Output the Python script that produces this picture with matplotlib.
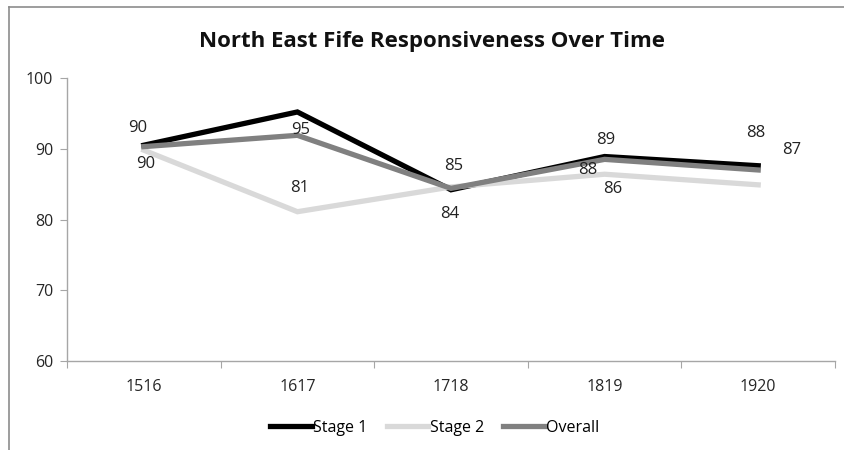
import matplotlib
matplotlib.use("Agg")
import matplotlib.pyplot as plt
from matplotlib.lines import Line2D

plt.rcParams['font.family'] = ['Open Sans', 'DejaVu Sans']

years = ['1516', '1617', '1718', '1819', '1920']
stage1 = [90.5, 95.2, 84.2, 88.9, 87.6]
stage2 = [89.8, 81.1, 84.6, 86.4, 84.9]
overall = [90.3, 91.9, 84.4, 88.5, 87.0]

# which points carry a data label, with offset in pixels (dx, dy up)
label_spots = [
    (stage1, 0, (-6, 17)),
    (stage2, 0, (2, -14)),
    (stage1, 1, (3, -18)),
    (stage2, 1, (2, 24)),
    (stage2, 2, (3, 21)),
    (stage1, 2, (-1, -24)),
    (stage1, 3, (1, 17)),
    (overall, 3, (-17, -11)),
    (stage2, 3, (8, -15)),
    (stage1, 4, (-2, 33)),
    (overall, 4, (33, 20)),
]

fig = plt.figure(figsize=(8.45, 4.5), dpi=100)
ax = fig.add_axes([67 / 845, 89 / 450, (835 - 67) / 845, (361 - 78) / 450])

x = list(range(len(years)))
ax.plot(x, stage1, color='#000000', lw=3.8, solid_joinstyle='miter', label='Stage 1')
ax.plot(x, stage2, color='#d9d9d9', lw=3.8, solid_joinstyle='miter', label='Stage 2')
ax.plot(x, overall, color='#808080', lw=3.8, solid_joinstyle='miter', label='Overall')

for series, i, (dx, dy) in label_spots:
    ax.annotate(f"{series[i]:.0f}", (x[i], series[i]), xytext=(dx * 0.72, dy * 0.72),
                textcoords='offset points', ha='center', va='center',
                fontsize=12, color='#222222')

ax.set_xlim(-0.5, len(years) - 0.5)
ax.set_ylim(60, 100)
ax.set_yticks([60, 70, 80, 90, 100])

# category boundaries as major ticks, names on minor ticks
ax.set_xticks([i - 0.5 for i in range(len(years) + 1)])
ax.set_xticklabels([])
ax.set_xticks(x, minor=True)
ax.set_xticklabels(years, minor=True)
ax.tick_params(axis='x', which='major', length=5, color='#a6a6a6', direction='out')
ax.tick_params(axis='x', which='minor', length=0, pad=13, labelsize=11.5, labelcolor='#262626')
ax.tick_params(axis='y', length=5, color='#a6a6a6', labelsize=11.5, labelcolor='#262626', pad=5)

for side in ['top', 'right']:
    ax.spines[side].set_visible(False)
for side in ['left', 'bottom']:
    ax.spines[side].set_color('#a6a6a6')
    ax.spines[side].set_linewidth(1.0)

fig.text(432 / 845, 1 - 42 / 450, 'North East Fife Responsiveness Over Time',
         ha='center', va='center', fontsize=16, fontweight='bold', color='#111111')

fig.legend(loc='center', bbox_to_anchor=(435 / 845, 1 - 428 / 450), ncol=3, frameon=False,
           fontsize=11.5, handlelength=2.6, handletextpad=0.1, columnspacing=1.2)

# chart area border (top and left edges visible)
fig.add_artist(Line2D([9 / 845, 9 / 845], [0, 1 - 7 / 450], transform=fig.transFigure,
                      color='#8c8c8c', lw=1.2))
fig.add_artist(Line2D([9 / 845, 1], [1 - 7 / 450, 1 - 7 / 450], transform=fig.transFigure,
                      color='#8c8c8c', lw=1.2))

fig.savefig('out.png', dpi=100)
